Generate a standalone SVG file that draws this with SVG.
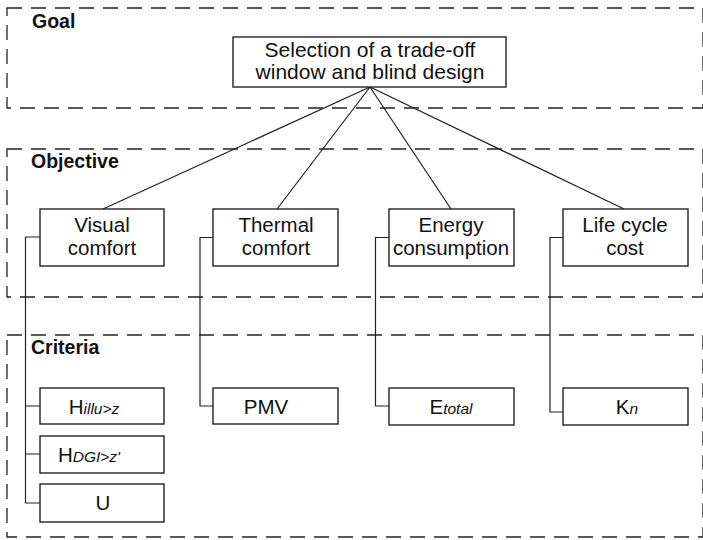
<svg xmlns="http://www.w3.org/2000/svg" width="703" height="540" viewBox="0 0 703 540">
<style>
.region{fill:none;stroke:#222;stroke-width:1.3;stroke-dasharray:15 9}
.box{fill:#fff;stroke:#222;stroke-width:1.4}
.conn{fill:none;stroke:#222;stroke-width:1.2}
.hdr{font-family:"Liberation Sans",Arial,sans-serif;font-weight:bold;font-size:19.5px;fill:#111}
.t{font-family:"Liberation Sans",Arial,sans-serif;font-size:20.5px;fill:#111;text-anchor:middle}
.s{font-style:italic;font-size:15.5px}
</style>
<rect width="703" height="540" fill="#fff"/>
<g id="regions">
<rect class="region" x="7" y="8" width="696" height="100"/>
<rect class="region" x="7" y="149" width="696" height="148"/>
<rect class="region" x="7" y="335" width="696" height="202"/>
<text class="hdr" x="32" y="28">Goal</text>
<text class="hdr" x="31" y="168">Objective</text>
<text class="hdr" x="31" y="354">Criteria</text>
</g>
<g id="connectors">
<path class="conn" d="M370 87 L103 209 M370 87 L277 209 M370 87 L451 209 M370 87 L624 209"/>
<path class="conn" d="M40 237 H25.5 V503 H40 M25.5 406 H40 M25.5 454 H40"/>
<path class="conn" d="M213 237.5 H200 V406 H213"/>
<path class="conn" d="M389 237.5 H375.5 V406 H389"/>
<path class="conn" d="M563 237.5 H550 V412 H563"/>
</g>
<g id="goal">
<rect class="box" x="233" y="37" width="273" height="50"/>
<text class="t" style="font-size:21px" x="370" y="57">Selection of a trade-off</text>
<text class="t" style="font-size:21px" x="370" y="79">window and blind design</text>
</g>
<g id="visual">
<rect class="box" x="40" y="209" width="124" height="57"/>
<text class="t" x="102" y="232">Visual</text>
<text class="t" x="102" y="255">comfort</text>
</g>
<g id="thermal">
<rect class="box" x="213" y="209" width="125" height="57"/>
<text class="t" x="276" y="232">Thermal</text>
<text class="t" x="276" y="255">comfort</text>
</g>
<g id="energy">
<rect class="box" x="389" y="209" width="125" height="57"/>
<text class="t" x="451" y="232">Energy</text>
<text class="t" x="451" y="255">consumption</text>
</g>
<g id="lcc">
<rect class="box" x="563" y="209" width="125" height="57"/>
<text class="t" x="625" y="232">Life cycle</text>
<text class="t" x="625" y="255">cost</text>
</g>
<g id="hillu">
<rect class="box" x="40" y="388" width="124" height="36"/>
<text class="t" x="94" y="413.5">H<tspan class="s">illu&gt;z</tspan></text>
</g>
<g id="hdgi">
<rect class="box" x="40" y="436" width="124" height="37"/>
<text class="t" x="89" y="461.5">H<tspan class="s">DGI&gt;z'</tspan></text>
</g>
<g id="u">
<rect class="box" x="40" y="484" width="124" height="38"/>
<text class="t" x="103" y="510">U</text>
</g>
<g id="pmv">
<rect class="box" x="213" y="388" width="125" height="36"/>
<text class="t" x="266" y="414">PMV</text>
</g>
<g id="etotal">
<rect class="box" x="389" y="388" width="125" height="37"/>
<text class="t" x="451" y="414">E<tspan class="s">total</tspan></text>
</g>
<g id="kn">
<rect class="box" x="563" y="388" width="125" height="37"/>
<text class="t" x="627" y="414">K<tspan class="s">n</tspan></text>
</g>
</svg>
